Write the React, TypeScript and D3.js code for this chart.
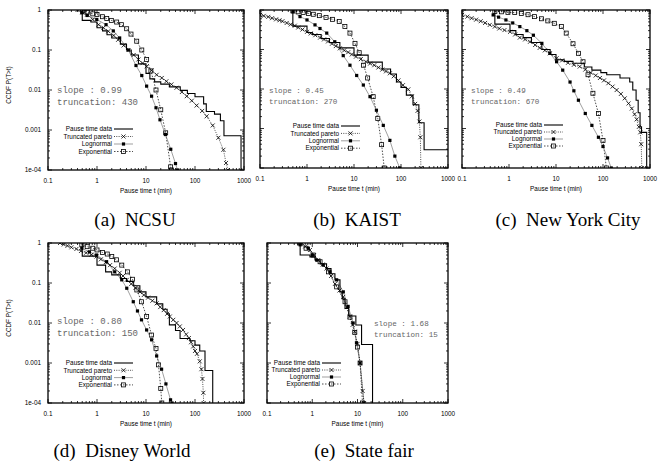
import React from "react";
import * as d3 from "d3";

type Pt = [number, number];

const X_TICKS = [0.1, 1, 10, 100, 1000];
const X_TICK_LABELS = ["0.1", "1", "10", "100", "1000"];
const Y_TICKS = [1, 0.1, 0.01, 0.001, 0.0001];
const Y_TICK_LABELS = ["1", "0.1", "0.01", "0.001", "1e-04"];
const LEGEND_LABELS = ["Pause time data", "Truncated pareto", "Lognormal", "Exponential"];
const CAPTIONS = ["(a)  NCSU", "(b)  KAIST", "(c)  New York City", "(d)  Disney World", "(e)  State fair"];
const SLOPES = ["0.99", "0.45", "0.49", "0.80", "1.68"];
const TRUNCATIONS = ["430", "270", "670", "150", "15"];
const X_LABEL = "Pause time t (min)";
const Y_LABEL = "CCDF P(T>t)";

// (a) NCSU
const ncsuData: Pt[] = [[0.5, 1], [0.5, 0.55], [0.75, 0.5], [1, 0.36], [1.3, 0.3], [1.6, 0.24], [2, 0.2], [3, 0.14], [4, 0.1], [5, 0.075], [7, 0.045], [10, 0.026], [12, 0.019], [15, 0.016], [20, 0.014], [30, 0.012], [50, 0.0098], [70, 0.0082], [100, 0.0068], [150, 0.0045], [170, 0.0029], [250, 0.0025], [330, 0.0017], [390, 0.00072], [870, 0.00001]];
const ncsuPareto: Pt[] = [[0.4, 1], [0.5, 0.88], [0.63, 0.77], [0.82, 0.58], [1.08, 0.43], [1.35, 0.36], [1.7, 0.295], [2.2, 0.23], [2.7, 0.18], [3.5, 0.13], [4.4, 0.1], [5.6, 0.075], [7, 0.058], [8.5, 0.047], [10.3, 0.039], [13, 0.031], [16.5, 0.024], [21, 0.02], [26, 0.0165], [33, 0.0138], [42, 0.0114], [54, 0.0089], [68, 0.007], [86, 0.0054], [108, 0.0041], [140, 0.003], [173, 0.0022], [230, 0.0013], [300, 0.00064], [380, 0.00032], [430, 0.00015], [470, 0.0001]];
const ncsuLognormal: Pt[] = [[0.49, 0.85], [0.63, 0.73], [0.99, 0.58], [1.53, 0.43], [2.15, 0.3], [2.9, 0.2], [4.35, 0.1], [6.25, 0.041], [8.2, 0.023], [10.3, 0.0125], [13, 0.007], [16, 0.0036], [19.3, 0.0018], [25, 0.00077], [32, 0.00033], [40, 0.000145], [44, 0.0001]];
const ncsuExponential: Pt[] = [[0.51, 0.97], [0.63, 0.88], [0.82, 0.8], [1, 0.77], [1.29, 0.68], [1.58, 0.61], [1.96, 0.55], [2.52, 0.5], [3.14, 0.43], [4.03, 0.34], [4.94, 0.25], [6.46, 0.166], [8.2, 0.1], [10.3, 0.058], [12.6, 0.03], [16, 0.01], [20, 0.0032], [25.2, 0.00085], [31.8, 0.00012], [33, 0.0001]];

// (b) KAIST
const kaistData: Pt[] = [[0.5, 1], [0.5, 0.39], [1, 0.27], [1.3, 0.24], [2, 0.19], [3, 0.15], [5, 0.11], [10, 0.072], [20, 0.048], [40, 0.032], [60, 0.024], [80, 0.015], [100, 0.011], [130, 0.007], [180, 0.004], [240, 0.0014], [310, 0.00029], [3000, 0.00029]];
const kaistPareto: Pt[] = [[0.1, 0.75], [0.12, 0.71], [0.15, 0.67], [0.18, 0.62], [0.22, 0.58], [0.26, 0.55], [0.3, 0.52], [0.37, 0.47], [0.45, 0.43], [0.55, 0.4], [0.65, 0.36], [0.8, 0.32], [1, 0.28], [1.2, 0.255], [1.5, 0.23], [1.9, 0.2], [2.3, 0.18], [2.8, 0.16], [3.4, 0.14], [4.1, 0.122], [5, 0.107], [6.2, 0.095], [7.5, 0.085], [9, 0.075], [11, 0.066], [14, 0.057], [18, 0.049], [22, 0.044], [27, 0.04], [33, 0.035], [40, 0.031], [48, 0.028], [58, 0.025], [70, 0.021], [88, 0.0165], [110, 0.0125], [143, 0.0098], [170, 0.0065], [200, 0.0042], [225, 0.0028], [246, 0.0015], [258, 0.0006], [265, 0.0001]];
const kaistLognormal: Pt[] = [[0.5, 0.9], [0.71, 0.68], [1, 0.56], [1.48, 0.42], [1.89, 0.34], [2.63, 0.26], [3.9, 0.157], [5.9, 0.07], [8.2, 0.04], [11.4, 0.022], [15.8, 0.0126], [21.9, 0.0064], [30, 0.0029], [42, 0.0012], [58, 0.0005], [74, 0.0002], [94, 0.0001]];
const kaistExponential: Pt[] = [[0.5, 0.95], [0.65, 0.9], [0.83, 0.87], [1.07, 0.82], [1.36, 0.78], [1.83, 0.72], [2.54, 0.65], [3.5, 0.58], [4.85, 0.51], [6.4, 0.38], [8.2, 0.26], [10.5, 0.143], [12.9, 0.083], [16, 0.04], [19.5, 0.019], [25.6, 0.0064], [32, 0.0018], [38.7, 0.00039], [44, 0.0001]];

// (c) New York City
const nycData: Pt[] = [[0.5, 1], [0.5, 0.44], [1.05, 0.3], [1.4, 0.24], [2, 0.2], [3, 0.15], [5, 0.1], [7.5, 0.075], [10, 0.055], [15, 0.05], [23, 0.045], [40, 0.036], [58, 0.03], [90, 0.026], [120, 0.023], [230, 0.019], [370, 0.015], [430, 0.0094], [506, 0.0052], [560, 0.0025], [614, 0.0011], [660, 0.0008], [850, 0.00001]];
const nycPareto: Pt[] = [[0.1, 0.75], [0.13, 0.68], [0.16, 0.62], [0.2, 0.57], [0.25, 0.52], [0.31, 0.47], [0.39, 0.42], [0.5, 0.38], [0.62, 0.34], [0.8, 0.31], [1.05, 0.28], [1.35, 0.24], [1.7, 0.2], [2.2, 0.18], [2.8, 0.157], [3.6, 0.13], [4.5, 0.11], [5.8, 0.095], [7.4, 0.08], [10.3, 0.06], [13.5, 0.053], [18, 0.046], [24, 0.041], [32, 0.037], [42, 0.031], [55, 0.026], [70, 0.022], [86, 0.019], [105, 0.0165], [130, 0.014], [160, 0.0115], [195, 0.0094], [240, 0.0075], [290, 0.0058], [350, 0.0043], [410, 0.0032], [470, 0.0023], [520, 0.0017], [580, 0.0011], [620, 0.0008], [650, 0.0004], [670, 0.0001]];
const nycLognormal: Pt[] = [[0.46, 0.75], [0.6, 0.66], [0.86, 0.56], [1.2, 0.47], [1.7, 0.38], [2.4, 0.3], [3.3, 0.23], [5, 0.143], [7.4, 0.08], [10.3, 0.049], [13.9, 0.03], [19.9, 0.015], [24, 0.009], [30, 0.0052], [42, 0.0024], [58, 0.0012], [80, 0.0006], [100, 0.00035], [125, 0.00018], [150, 0.0001]];
const nycExponential: Pt[] = [[0.5, 0.92], [0.69, 0.9], [0.95, 0.87], [1.32, 0.86], [1.83, 0.82], [2.54, 0.76], [3.5, 0.68], [4.9, 0.6], [6.7, 0.53], [9.2, 0.46], [13, 0.38], [16.5, 0.26], [23, 0.14], [30, 0.08], [37.6, 0.049], [48, 0.023], [61, 0.0078], [80, 0.0024], [100, 0.0005], [118, 0.0001]];

// (d) Disney World
const disneyData: Pt[] = [[0.5, 1], [0.5, 0.47], [1, 0.28], [1.5, 0.19], [2, 0.16], [3, 0.13], [4, 0.11], [5.5, 0.085], [7.5, 0.06], [10, 0.045], [16.5, 0.03], [22, 0.022], [27, 0.017], [30, 0.009], [40, 0.0065], [49.6, 0.0041], [79, 0.0036], [100, 0.0028], [125, 0.002], [160, 0.00065], [230, 0.00001]];
const disneyPareto: Pt[] = [[0.176, 1], [0.21, 0.92], [0.25, 0.85], [0.3, 0.78], [0.38, 0.71], [0.47, 0.63], [0.6, 0.57], [0.77, 0.51], [0.98, 0.46], [1.2, 0.39], [1.5, 0.33], [1.85, 0.28], [2.3, 0.23], [2.9, 0.18], [3.4, 0.15], [4.05, 0.12], [5, 0.095], [6.1, 0.075], [7.5, 0.06], [9, 0.05], [11, 0.043], [13.5, 0.036], [16.5, 0.031], [19.5, 0.025], [23, 0.021], [27, 0.017], [30.6, 0.0145], [36, 0.012], [42, 0.01], [49, 0.0082], [57, 0.0067], [66, 0.0052], [75, 0.0042], [83, 0.0033], [92, 0.0026], [100, 0.002], [110, 0.0017], [125, 0.0011], [135, 0.0007], [142, 0.0004], [148, 0.00018], [150, 0.0001]];
const disneyLognormal: Pt[] = [[0.49, 0.74], [0.7, 0.6], [0.98, 0.5], [1.57, 0.34], [2.3, 0.19], [3.2, 0.12], [4.05, 0.074], [5.5, 0.034], [6.7, 0.02], [8.1, 0.012], [10.3, 0.0067], [13, 0.0038], [16.5, 0.0015], [20.8, 0.0007], [25.5, 0.0003], [31.7, 0.00012], [34, 0.0001]];
const disneyExponential: Pt[] = [[0.49, 0.9], [0.63, 0.81], [0.82, 0.74], [1, 0.67], [1.3, 0.58], [1.62, 0.53], [2, 0.46], [2.5, 0.38], [3.2, 0.28], [4.2, 0.19], [5.3, 0.124], [6.5, 0.067], [8.1, 0.034], [10.3, 0.0145], [13, 0.005], [16, 0.0023], [18, 0.0009], [20, 0.00023], [21, 0.0001]];

// (e) State fair
const fairData: Pt[] = [[0.54, 1], [0.54, 0.5], [0.89, 0.45], [1.15, 0.375], [1.5, 0.3], [2.07, 0.23], [2.6, 0.17], [3.17, 0.12], [4.1, 0.06], [4.6, 0.04], [5.3, 0.023], [6.4, 0.015], [9.2, 0.0089], [12.3, 0.0029], [21.5, 0.00001]];
const fairPareto: Pt[] = [[0.58, 1], [0.7, 0.82], [0.89, 0.67], [1.1, 0.5], [1.36, 0.375], [1.7, 0.29], [2.07, 0.23], [2.6, 0.15], [3.17, 0.095], [4, 0.065], [4.85, 0.045], [5.8, 0.025], [6.8, 0.0145], [7.8, 0.009], [8.7, 0.0061], [10, 0.003], [11.4, 0.001], [13, 0.0002], [14, 0.0001]];
const fairLognormal: Pt[] = [[0.54, 0.9], [0.82, 0.74], [1.0, 0.5], [1.25, 0.375], [1.75, 0.28], [2.46, 0.19], [3.46, 0.12], [4.85, 0.06], [6.2, 0.026], [8, 0.01], [9.5, 0.0032], [11.4, 0.001], [13.9, 0.0001]];
const fairExponential: Pt[] = [[0.52, 1], [0.73, 0.74], [1.05, 0.5], [1.49, 0.34], [2.28, 0.19], [3.46, 0.08], [5.3, 0.034], [6.8, 0.014], [8.7, 0.0058], [10, 0.0025], [11.4, 0.001], [12.9, 0.0001]];

const SERIES = [
  [ncsuData, ncsuPareto, ncsuLognormal, ncsuExponential],
  [kaistData, kaistPareto, kaistLognormal, kaistExponential],
  [nycData, nycPareto, nycLognormal, nycExponential],
  [disneyData, disneyPareto, disneyLognormal, disneyExponential],
  [fairData, fairPareto, fairLognormal, fairExponential],
];

interface Layout {
  l: number; r: number; t: number; b: number;
  yLabels: boolean;
  capX: number; capY: number;
  fitX: number; fitY: number; fitSize: number; fitDy: number;
  legX: number; legY: number; legDy: number;
}

const LAYOUTS: Layout[] = [
  { l: 48, r: 244, t: 10, b: 170, yLabels: true, capX: 135, capY: 226, fitX: 57, fitY: 93, fitSize: 9, fitDy: 11.5, legX: 112, legY: 129, legDy: 7.5 },
  { l: 260, r: 448, t: 10, b: 168, yLabels: false, capX: 357, capY: 226, fitX: 269, fitY: 93, fitSize: 7.6, fitDy: 10.5, legX: 339, legY: 126, legDy: 7.4 },
  { l: 462, r: 650, t: 10, b: 168, yLabels: false, capX: 568, capY: 226, fitX: 471, fitY: 93, fitSize: 7.6, fitDy: 10.5, legX: 542, legY: 125, legDy: 7 },
  { l: 48, r: 244, t: 243, b: 403, yLabels: true, capX: 122, capY: 457, fitX: 57, fitY: 324, fitSize: 9, fitDy: 11.5, legX: 112, legY: 363, legDy: 7.3 },
  { l: 267, r: 448, t: 243, b: 403, yLabels: false, capX: 364, capY: 457, fitX: 374, fitY: 326, fitSize: 7.6, fitDy: 10.5, legX: 320, legY: 363, legDy: 7 },
];

const SANS = "'Liberation Sans', Arial, Helvetica, sans-serif";
const SERIF = "'Liberation Serif', 'Times New Roman', serif";
const MONO = "'Liberation Mono', 'Courier New', monospace";
const SMALL = 6.4;

function Marker({ kind, x, y }: { kind: number; x: number; y: number }) {
  if (kind === 1) {
    const s = 2;
    return (
      <g stroke="#000" strokeWidth={0.8}>
        <line x1={x - s} y1={y - s} x2={x + s} y2={y + s} />
        <line x1={x - s} y1={y + s} x2={x + s} y2={y - s} />
      </g>
    );
  }
  if (kind === 2) {
    return <rect x={x - 1.6} y={y - 1.6} width={3.2} height={3.2} fill="#000" />;
  }
  if (kind === 3) {
    return <rect x={x - 2} y={y - 2} width={4} height={4} fill="none" stroke="#000" strokeWidth={0.8} />;
  }
  return null;
}

const LINE_STYLE = [
  { stroke: "#000", width: 1.1, dash: undefined as string | undefined },
  { stroke: "#000", width: 0.7, dash: "1,1.3" },
  { stroke: "#777", width: 0.7, dash: undefined },
  { stroke: "#000", width: 0.7, dash: "1.5,1.5" },
];

function Panel({ idx }: { idx: number }) {
  const L = LAYOUTS[idx];
  const x = d3.scaleLog().domain([0.1, 1000]).range([L.l, L.r]);
  const y = d3.scaleLog().domain([1e-4, 1]).range([L.b, L.t]).clamp(false);
  const yv = (v: number) => y(Math.max(v, 1e-6));
  const clipId = `clip${idx}`;
  const series = SERIES[idx];

  const minorX: number[] = [];
  [0.1, 1, 10, 100].forEach((d) => { for (let k = 2; k <= 9; k++) minorX.push(d * k); });
  const minorY: number[] = [];
  [1e-4, 1e-3, 1e-2, 1e-1].forEach((d) => { for (let k = 2; k <= 9; k++) minorY.push(d * k); });

  const lineGen = (step: boolean) =>
    d3.line<Pt>().x((d) => x(d[0])).y((d) => yv(d[1])).curve(step ? d3.curveStepAfter : d3.curveLinear);

  const order = [3, 2, 1, 0];
  const cx = (L.l + L.r) / 2;
  const cy = (L.t + L.b) / 2;
  const tickLabelY = L.b + 13;

  return (
    <g>
      <defs>
        <clipPath id={clipId}>
          <rect x={L.l} y={L.t} width={L.r - L.l} height={L.b - L.t} />
        </clipPath>
      </defs>
      <g clipPath={`url(#${clipId})`}>
        {order.map((si) => {
          const st = LINE_STYLE[si];
          return (
            <g key={si}>
              <path d={lineGen(si === 0)(series[si]) || ""} fill="none" stroke={st.stroke} strokeWidth={st.width} strokeDasharray={st.dash} />
              {si > 0 && series[si].filter((d) => d[1] >= 1e-4 && d[0] >= 0.1).map((d, i) => (
                <Marker key={i} kind={si} x={x(d[0])} y={yv(d[1])} />
              ))}
            </g>
          );
        })}
      </g>
      <g stroke="#000" strokeWidth={0.8}>
        {X_TICKS.map((t, i) => (
          <g key={"xt" + i}>
            <line x1={x(t)} x2={x(t)} y1={L.b} y2={L.b - 4} />
            <line x1={x(t)} x2={x(t)} y1={L.t} y2={L.t + 4} />
          </g>
        ))}
        {minorX.map((t, i) => (
          <g key={"xm" + i}>
            <line x1={x(t)} x2={x(t)} y1={L.b} y2={L.b - 2} />
            <line x1={x(t)} x2={x(t)} y1={L.t} y2={L.t + 2} />
          </g>
        ))}
        {Y_TICKS.map((t, i) => (
          <g key={"yt" + i}>
            <line x1={L.l} x2={L.l + 4} y1={y(t)} y2={y(t)} />
            <line x1={L.r} x2={L.r - 4} y1={y(t)} y2={y(t)} />
          </g>
        ))}
        {minorY.map((t, i) => (
          <g key={"ym" + i}>
            <line x1={L.l} x2={L.l + 2} y1={y(t)} y2={y(t)} />
            <line x1={L.r} x2={L.r - 2} y1={y(t)} y2={y(t)} />
          </g>
        ))}
      </g>
      <rect x={L.l} y={L.t} width={L.r - L.l} height={L.b - L.t} fill="none" stroke="#000" strokeWidth={1.3} />
      <g fontFamily={SANS} fontSize={SMALL} fill="#000">
        {X_TICKS.map((t, i) => (
          <text key={"xl" + i} x={x(t)} y={tickLabelY} textAnchor="middle">{X_TICK_LABELS[i]}</text>
        ))}
        {L.yLabels && Y_TICKS.map((t, i) => (
          <text key={"yl" + i} x={L.l - 7} y={y(t) + 2.2} textAnchor="end">{Y_TICK_LABELS[i]}</text>
        ))}
        <text x={cx} y={L.b + 23} textAnchor="middle">{X_LABEL}</text>
        {L.yLabels && (
          <text transform={`translate(11,${cy - 5}) rotate(-90)`} textAnchor="middle">{Y_LABEL}</text>
        )}
      </g>
      <g fontFamily={MONO} fontSize={L.fitSize} fill="#666">
        <text x={L.fitX} y={L.fitY} style={{ whiteSpace: "pre" }}>{`slope : ${SLOPES[idx]}`}</text>
        <text x={L.fitX} y={L.fitY + L.fitDy} style={{ whiteSpace: "pre" }}>{`truncation: ${TRUNCATIONS[idx]}`}</text>
      </g>
      <g fontFamily={SANS} fontSize={SMALL}>
        {LEGEND_LABELS.map((lab, i) => {
          const ry = L.legY + i * L.legDy;
          const st = LINE_STYLE[i];
          const x1 = L.legX + 2;
          const x2 = L.legX + 21;
          return (
            <g key={"lg" + i}>
              <text x={L.legX} y={ry + 2.2} textAnchor="end" fill="#000">{lab}</text>
              <line x1={x1} x2={x2} y1={ry} y2={ry} stroke={st.stroke} strokeWidth={i === 0 ? 1.1 : st.width} strokeDasharray={st.dash} />
              <Marker kind={i} x={(x1 + x2) / 2} y={ry} />
            </g>
          );
        })}
      </g>
      <text x={L.capX} y={L.capY} textAnchor="middle" fontFamily={SERIF} fontSize={19} fill="#000" style={{ whiteSpace: "pre" }}>
        {CAPTIONS[idx]}
      </text>
    </g>
  );
}

export default function App() {
  return (
    <svg width={661} height={466} viewBox="0 0 661 466" style={{ position: "absolute", left: 0, top: 0, background: "#fff" }}>
      <rect x={0} y={0} width={661} height={466} fill="#fff" />
      {LAYOUTS.map((_, i) => (
        <Panel key={i} idx={i} />
      ))}
    </svg>
  );
}
